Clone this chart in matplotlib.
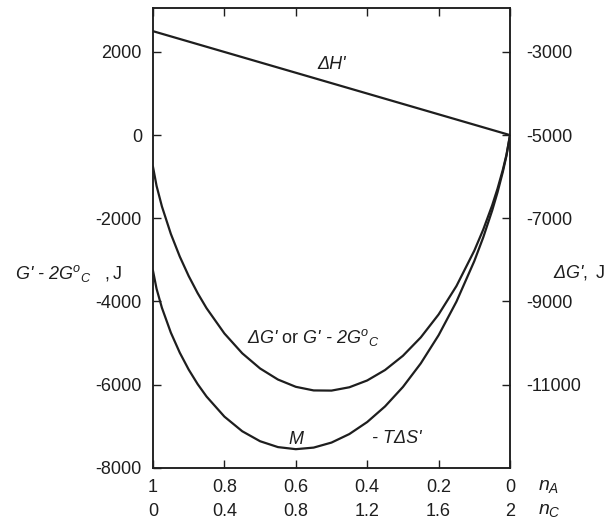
import matplotlib
matplotlib.use("Agg")
import matplotlib.pyplot as plt

plt.rcParams['font.family'] = ['Liberation Sans', 'DejaVu Sans']
plt.rcParams['mathtext.fontset'] = 'custom'
plt.rcParams['mathtext.rm'] = 'Liberation Sans'
plt.rcParams['mathtext.it'] = 'Liberation Sans:italic'
plt.rcParams['mathtext.bf'] = 'Liberation Sans:bold'
plt.rcParams['axes.unicode_minus'] = False

# ---- data ----
n_A = [1.0, 0.99, 0.975, 0.95, 0.925, 0.9, 0.875, 0.85, 0.8, 0.75, 0.7, 0.65,
       0.6, 0.55, 0.5, 0.45, 0.4, 0.35, 0.3, 0.25, 0.2, 0.15, 0.1, 0.075,
       0.05, 0.035, 0.02, 0.01, 0.0]
dG = [-763, -1221, -1716, -2376, -2921, -3390, -3800, -4163, -4771, -5248,
      -5613, -5879, -6054, -6141, -6145, -6065, -5901, -5650, -5308, -4866,
      -4313, -3629, -2779, -2272, -1689, -1288, -830, -473, 0]
mTdS = [-3263, -3696, -4154, -4751, -5233, -5640, -5988, -6288, -6771, -7123,
        -7363, -7504, -7554, -7516, -7395, -7190, -6901, -6525, -6058, -5491,
        -4813, -4004, -3029, -2460, -1814, -1376, -880, -498, 0]
dH_x = [1.0, 0.0]
dH = [2500, 0]

left_ticks = [2000, 0, -2000, -4000, -6000, -8000]
right_ticks = [-3000, -5000, -7000, -9000, -11000]
x_ticks = [1, 0.8, 0.6, 0.4, 0.2, 0]
nA_labels = ['1', '0.8', '0.6', '0.4', '0.2', '0']
nC_labels = ['0', '0.4', '0.8', '1.2', '1.6', '2']

ink = '#1e1e1e'
fig = plt.figure(figsize=(6.04, 5.26), dpi=100)
ax = fig.add_axes([0.2533, 0.1108, 0.5911, 0.8734])
ax.plot(dH_x, dH, color=ink, lw=1.6, solid_capstyle='butt')
ax.plot(n_A, dG, color=ink, lw=1.6)
ax.plot(n_A, mTdS, color=ink, lw=1.6)

ax.set_xlim(1, 0)
ax.set_ylim(-8000, 3050)
ax.set_yticks(left_ticks)
ax.set_yticklabels([str(v) for v in left_ticks])
ax.set_xticks(x_ticks)
ax.set_xticklabels([a + '\n' + c for a, c in zip(nA_labels, nC_labels)],
                   linespacing=1.55)
for s in ax.spines.values():
    s.set_linewidth(1.1)
    s.set_color(ink)
ax.tick_params(axis='both', direction='in', length=6, width=1.0, colors=ink,
               labelsize=13, labelcolor=ink)
ax.tick_params(axis='x', top=True, pad=8)
ax.tick_params(axis='y', right=False, pad=8)

ax2 = ax.twinx()
ax2.set_ylim(-13000, -1950)
ax2.set_yticks(right_ticks)
ax2.set_yticklabels([str(v) for v in right_ticks])
ax2.tick_params(axis='y', direction='in', length=6, width=1.0, colors=ink,
                labelsize=13, labelcolor=ink, pad=12)
for s in ax2.spines.values():
    s.set_linewidth(1.1)
    s.set_color(ink)

# curve labels
ax.text(0.5, 1700, "ΔH'", style='italic', fontsize=13, ha='center', va='center', color=ink)
ax.text(0.738, -5000, r"ΔG' $\mathrm{or}$ G' - 2G$^{o}{}_{C}$", style='italic',
        fontsize=13, ha='left', va='baseline', color=ink)
ax.text(0.60, -7430, "M", style='italic', fontsize=13, ha='center', va='baseline', color=ink)
ax.text(0.387, -7400, "- TΔS'", style='italic', fontsize=13, ha='left', va='baseline', color=ink)

# axis labels
fig.text(0.0248, 1 - 279 / 526, r"G' - 2G$^{o}{}_{C}$   $\mathrm{,J}$", style='italic',
         fontsize=13, ha='left', va='baseline', color=ink)
fig.text(0.9156, 1 - 277 / 526, r"ΔG'$\mathrm{,\ J}$", style='italic', fontsize=13,
         ha='left', va='baseline', color=ink)
fig.text(538 / 604, 1 - 486.7 / 526, r"$n_A$", fontsize=14, ha='left', va='center', color=ink)
fig.text(538 / 604, 1 - 510.7 / 526, r"$n_C$", fontsize=14, ha='left', va='center', color=ink)

fig.savefig('out.png', dpi=100)
